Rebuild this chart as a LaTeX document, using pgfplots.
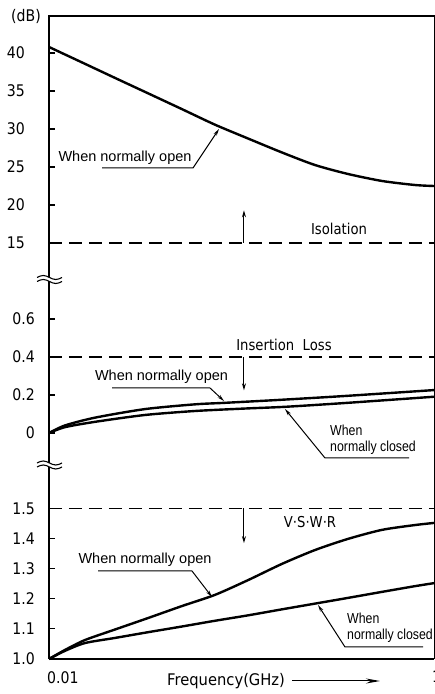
\documentclass[border=0pt]{standalone}
\usepackage{fontspec}
\setmainfont{Liberation Sans}
\newfontfamily\tickfont[FakeStretch=0.88]{DejaVu Sans}
\newfontfamily\freqfont[FakeStretch=0.92]{DejaVu Sans}
\newfontfamily\narrowfont[FakeStretch=0.85]{Liberation Sans}
\usepackage{pgfplots}
\pgfplotsset{compat=1.18}
\usetikzlibrary{arrows.meta}
\newcommand\lab{\fontsize{14.5}{16}\selectfont}
\newcommand\nlab{\narrowfont\fontsize{14.5}{16}\selectfont}
\newcommand\tk{\tickfont\fontsize{16}{18}\selectfont}
\tikzset{
  mycurve/.style={line width=2.4pt, black, smooth, tension=0.45},
  myspec/.style={line width=1.4pt, black, dash pattern=on 13pt off 7pt},
  mylead/.style={line width=1pt, -{Stealth[length=7pt,width=3.5pt]}},
}
\begin{document}
\begin{tikzpicture}
% ---------------- Isolation ----------------
\begin{axis}[scale only axis, width=385pt, height=264pt, at={(49pt,414pt)}, anchor=south west,
  xmode=log, xmin=0.01, xmax=1, ymin=10.13, ymax=44.87,
  axis x line=none, axis y line*=left, xtick=\empty,
  axis line style={line width=1.6pt, black},
  tick align=inside, major tick length=6pt, tick style={black, line width=1.2pt},
  ytick={15,20,25,30,35,40},
  yticklabel style={font=\tk, inner sep=0pt, anchor=east, xshift=-24pt},
  /pgf/number format/assume math mode=true, clip=false]
\addplot[mycurve, no marks] coordinates {(0.01,40.79) (0.01484,38.76) (0.02203,36.72) (0.03268,34.70) (0.04909,32.61) (0.0728,30.57) (0.1081,28.75) (0.1623,26.91) (0.2409,25.26) (0.3575,24.08) (0.537,23.16) (0.7966,22.63) (1,22.5)};
\addplot[myspec, no marks] coordinates {(0.01,15) (1,15)};
\draw[line width=1pt, -{Stealth[length=7pt,width=4pt]}] (axis cs:0.103,15) -- (axis cs:0.103,19.3);
\end{axis}
% ---------------- Insertion loss ----------------
\begin{axis}[scale only axis, width=385pt, height=185pt, at={(49pt,229pt)}, anchor=south west,
  xmode=log, xmin=0.01, xmax=1, ymin=-0.168, ymax=0.805,
  axis x line=none, axis y line*=left, xtick=\empty,
  axis line style={line width=1.6pt, black},
  tick align=inside, major tick length=6pt, tick style={black, line width=1.2pt},
  ytick={0,0.2,0.4,0.6}, yticklabels={0,0.2,0.4,0.6},
  yticklabel style={font=\tk, inner sep=0pt, anchor=east, xshift=-14pt},
  /pgf/number format/assume math mode=true, clip=false]
\addplot[mycurve, no marks] coordinates {(0.01,0) (0.0121,0.040) (0.01734,0.081) (0.0315,0.126) (0.0573,0.151) (0.0821,0.159) (0.1547,0.174) (0.3449,0.195) (1,0.226)};
\addplot[mycurve, no marks] coordinates {(0.01,0) (0.0121,0.031) (0.01734,0.059) (0.0315,0.095) (0.0573,0.116) (0.1043,0.129) (0.1683,0.138) (0.3449,0.158) (1,0.191)};
\addplot[myspec, no marks] coordinates {(0.01,0.4) (1,0.4)};
\draw[line width=1pt, -{Stealth[length=7pt,width=4pt]}] (axis cs:0.103,0.4) -- (axis cs:0.103,0.225);
\end{axis}
% ---------------- VSWR ----------------
\begin{axis}[scale only axis, width=385pt, height=194pt, at={(49pt,35pt)}, anchor=south west,
  xmode=log, xmin=0.01, xmax=1, ymin=1.0, ymax=1.6445,
  axis x line*=bottom, axis y line*=left,
  axis line style={line width=1.6pt, black},
  tick align=inside, major tick length=6pt, tick style={black, line width=1.2pt},
  xtick={0.01,1}, xticklabels={0.01,1}, x tick style={draw=none},
  xticklabel style={font=\tk, anchor=north west, inner sep=0pt, xshift=-2pt, yshift=-12pt},
  ytick={1.0,1.1,1.2,1.3,1.4,1.5}, yticklabels={1.0,1.1,1.2,1.3,1.4,1.5},
  yticklabel style={font=\tk, inner sep=0pt, anchor=east, xshift=-14pt},
  /pgf/number format/assume math mode=true, clip=false]
\addplot[mycurve, no marks] coordinates {(0.01,1.0) (0.0121,1.030) (0.01538,1.063) (0.02203,1.098) (0.03268,1.136) (0.04909,1.176) (0.0728,1.213) (0.1081,1.262) (0.1623,1.316) (0.2409,1.362) (0.3575,1.399) (0.537,1.429) (0.7966,1.445) (1,1.452)};
\addplot[mycurve, no marks] coordinates {(0.01,1.0) (0.0121,1.027) (0.01538,1.053) (0.02203,1.070) (0.03268,1.089) (0.04909,1.108) (0.0728,1.127) (0.1081,1.145) (0.1623,1.165) (0.2409,1.184) (0.3575,1.203) (0.537,1.223) (0.7966,1.242) (1,1.252)};
\addplot[myspec, no marks] coordinates {(0.01,1.5) (1,1.5)};
\draw[line width=1pt, -{Stealth[length=7pt,width=4pt]}] (axis cs:0.103,1.5) -- (axis cs:0.103,1.385);
\end{axis}
% frame
\draw[line width=1.6pt] (48.2pt,678pt) -- (435pt,678pt);
\draw[line width=1pt] (434.5pt,678pt) -- (434.5pt,35pt);
% breaks
\fill[white] (44pt,412.5pt) rectangle (54pt,416.5pt);
\draw[line width=1.1pt] (37pt,416.5pt) sin (43.25pt,418.5pt) cos (49.5pt,416.5pt) sin (55.75pt,414.5pt) cos (62pt,416.5pt);
\draw[line width=1.1pt] (37pt,412.5pt) sin (43.25pt,414.5pt) cos (49.5pt,412.5pt) sin (55.75pt,410.5pt) cos (62pt,412.5pt);
\fill[white] (44pt,227pt) rectangle (54pt,231pt);
\draw[line width=1.1pt] (37pt,231pt) sin (43.25pt,233pt) cos (49.5pt,231pt) sin (55.75pt,229pt) cos (62pt,231pt);
\draw[line width=1.1pt] (37pt,227pt) sin (43.25pt,229pt) cos (49.5pt,227pt) sin (55.75pt,225pt) cos (62pt,227pt);
% labels
\node[font=\tk] at (26pt,678pt) {(dB)};
\node[font=\tickfont\fontsize{15}{17}\selectfont] at (339pt,465pt) {Isolation};
\node[font=\tickfont\fontsize{15}{17}\selectfont] at (284pt,349pt) {Insertion\ \ Loss};
\node[font=\tickfont\fontsize{15}{17}\selectfont] at (310pt,172pt) {V·S·W·R};
\node[font=\lab] at (125pt,536pt) {When normally open};
\draw[mylead] (102pt,526pt) -- (193pt,526pt) -- (219pt,565pt);
\node[font=\lab] at (161.5pt,317pt) {When normally open};
\draw[mylead] (112pt,306pt) -- (210pt,306pt) -- (224pt,293pt);
\node[font=\nlab, anchor=north west, align=left, inner sep=0pt] at (330pt,269.5pt) {When\\normally closed};
\draw[mylead] (409pt,236pt) -- (325pt,236pt) -- (285pt,285pt);
\node[font=\lab] at (145pt,134pt) {When normally open};
\draw[mylead] (98pt,123pt) -- (192pt,123pt) -- (212pt,97pt);
\node[font=\nlab, anchor=north west, align=left, inner sep=0pt] at (347pt,81pt) {When\\normally closed};
\draw[mylead] (423pt,47pt) -- (345pt,47pt) -- (318pt,89pt);
\node[anchor=west, inner sep=0pt, font=\freqfont\fontsize{16}{18}\selectfont] at (167pt,13pt) {Frequency(GHz)};
\draw[line width=1pt, -{Stealth[length=14pt,width=5pt]}] (292pt,13pt) -- (380pt,13pt);
\pgfresetboundingbox
\useasboundingbox (0,0) rectangle (435pt,694pt);
\end{tikzpicture}
\end{document}
